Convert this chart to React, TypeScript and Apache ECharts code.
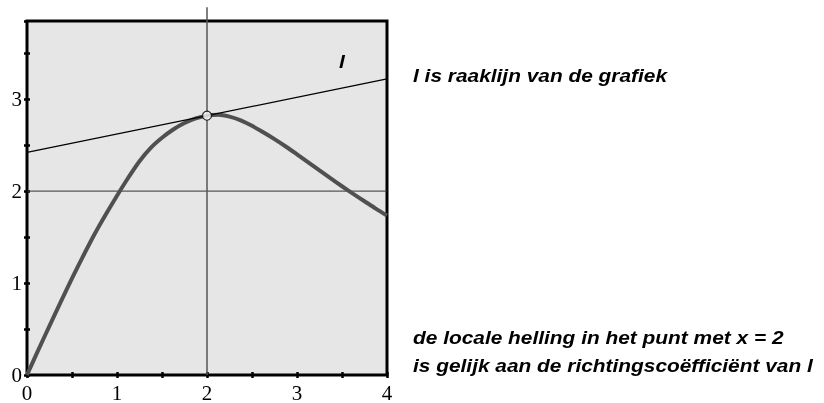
import React, { useEffect, useRef } from "react";
import * as echarts from "echarts";

const curveX = [
  0, 0.125, 0.25, 0.375, 0.5, 0.625, 0.75, 0.875, 1.0, 1.125, 1.25, 1.375, 1.5, 1.625, 1.75, 1.875,
  2.0, 2.125, 2.25, 2.375, 2.5, 2.625, 2.75, 2.875, 3.0, 3.125, 3.25, 3.375, 3.5, 3.625, 3.75, 3.875, 4.0,
];
const curveY = [
  0, 0.27, 0.535, 0.795, 1.05, 1.295, 1.53, 1.745, 1.95, 2.145, 2.325, 2.47, 2.58, 2.67, 2.74, 2.79,
  2.82, 2.83, 2.81, 2.77, 2.71, 2.64, 2.565, 2.485, 2.4, 2.313, 2.225, 2.138, 2.053, 1.97, 1.89, 1.81, 1.735,
];
const tangentX = [0, 4];
const tangentY = [2.42, 3.22];
const touchPoint = [2, 2.82];
const verticalX = [2, 2];
const verticalY = [0, 4];
const horizontalX = [0, 4];
const horizontalY = [2, 2];
const xTickLabels = ["0", "1", "2", "3", "4"];
const yTickLabels = ["0", "1", "2", "3"];
const lineLabel = "l";
const captionTop = "l is raaklijn van de grafiek";
const captionBottom = ["de locale helling in het punt met x = 2", "is gelijk aan de richtingscoëfficiënt van l"];

const zip = (xs: number[], ys: number[]) => xs.map((x, i) => [x, ys[i]]);

const labelFmt = (labels: string[]) => (v: number) => {
  const s = String(v);
  return labels.includes(s) ? s : "";
};

export default function App() {
  const ref = useRef<HTMLDivElement>(null);
  useEffect(() => {
    if (!ref.current) return;
    const chart = echarts.init(ref.current, undefined, { renderer: "svg" });
    const tickCommon = {
      show: true,
      inside: true,
      length: 3,
      lineStyle: { color: "#000", width: 2.5 },
    };
    const textFont = {
      fontFamily: "Liberation Sans, Arial, sans-serif",
      fontWeight: "bold",
      fontStyle: "italic",
      fontSize: 18,
      fill: "#000",
      verticalAlign: "bottom",
    };
    const sx = 1.16;
    chart.setOption({
      animation: false,
      grid: {
        left: 27,
        top: 21,
        width: 360,
        height: 355,
        show: true,
        backgroundColor: "#e6e6e6",
        borderColor: "#000",
        borderWidth: 3,
      },
      xAxis: [
        {
          type: "value",
          min: 0,
          max: 4,
          interval: 0.5,
          position: "bottom",
          axisLine: { show: false },
          axisTick: tickCommon,
          splitLine: { show: false },
          axisLabel: {
            formatter: labelFmt(xTickLabels),
            fontFamily: "Liberation Serif, Times New Roman, serif",
            fontSize: 21,
            color: "#000",
            margin: 7,
          },
        },
        {
          type: "value",
          min: 0,
          max: 4,
          interval: 0.5,
          position: "top",
          axisLine: { show: false },
          axisTick: tickCommon,
          splitLine: { show: false },
          axisLabel: { show: false },
        },
      ],
      yAxis: [
        {
          type: "value",
          min: 0,
          max: 3.85,
          interval: 0.5,
          position: "left",
          axisLine: { show: false },
          axisTick: tickCommon,
          splitLine: { show: false },
          axisLabel: {
            formatter: labelFmt(yTickLabels),
            fontFamily: "Liberation Serif, Times New Roman, serif",
            fontSize: 21,
            color: "#000",
            margin: 5,
            showMaxLabel: false,
          },
        },
        {
          type: "value",
          min: 0,
          max: 3.85,
          interval: 0.5,
          position: "right",
          axisLine: { show: false },
          axisTick: tickCommon,
          splitLine: { show: false },
          axisLabel: { show: false },
        },
      ],
      series: [
        {
          type: "line",
          data: zip(horizontalX, horizontalY),
          showSymbol: false,
          lineStyle: { color: "#333", width: 1 },
          silent: true,
        },
        {
          type: "line",
          data: zip(verticalX, verticalY),
          showSymbol: false,
          clip: false,
          lineStyle: { color: "#555", width: 1.5 },
          silent: true,
        },
        {
          type: "line",
          data: zip(curveX, curveY),
          smooth: 0.3,
          showSymbol: false,
          lineStyle: { color: "#505050", width: 4 },
          silent: true,
        },
        {
          type: "line",
          data: zip(tangentX, tangentY),
          showSymbol: false,
          lineStyle: { color: "#000", width: 1.3 },
          silent: true,
        },
        {
          type: "scatter",
          data: [touchPoint],
          symbol: "circle",
          symbolSize: 9,
          itemStyle: { color: "#fff", borderColor: "#000", borderWidth: 1.2 },
          silent: true,
          z: 5,
        },
      ],
      graphic: [
        { type: "text", x: 339, y: 71, scaleX: sx, style: { ...textFont, text: lineLabel } },
        { type: "text", x: 413, y: 85, scaleX: sx, style: { ...textFont, text: captionTop } },
        { type: "text", x: 413, y: 347, scaleX: sx, style: { ...textFont, text: captionBottom[0] } },
        { type: "text", x: 413, y: 375, scaleX: sx, style: { ...textFont, text: captionBottom[1] } },
      ],
    });
    return () => chart.dispose();
  }, []);
  return (
    <div
      ref={ref}
      style={{ position: "fixed", left: 0, top: 0, width: 824, height: 403 }}
    />
  );
}
